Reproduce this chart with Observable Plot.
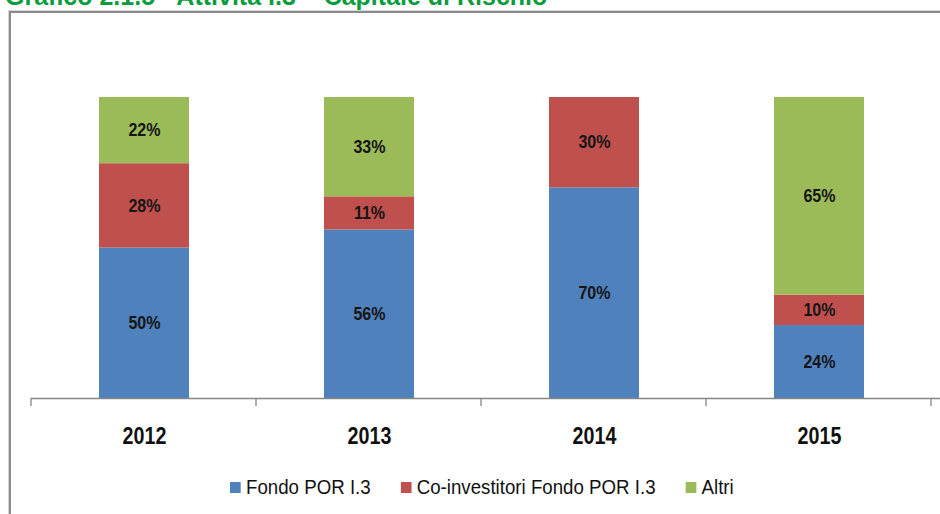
<!DOCTYPE html>
<html>
<head>
<meta charset="utf-8">
<script src="https://cdn.jsdelivr.net/npm/d3@7"></script>
<script src="https://cdn.jsdelivr.net/npm/@observablehq/plot@0.6"></script>
<style>
  html, body { margin: 0; padding: 0; background: #fff; width: 940px; height: 514px; overflow: hidden; }
  #wrap { position: relative; width: 940px; height: 514px; overflow: hidden; }
  #title { position: absolute; left: 5px; top: -16.5px; font-family: "Liberation Sans", Arial, sans-serif; font-weight: bold; font-size: 25px; line-height: 25px; color: #0c9c3e; white-space: nowrap; }
  #frame { position: absolute; left: 9px; top: 11px; width: 1200px; height: 800px; border-left: 2px solid #8a8a8a; border-top: 2px solid #8a8a8a; box-shadow: -1px -1px 0 #d6d6d6; }
  #chart { position: absolute; left: 0; top: 0; }
  #legend { position: absolute; left: 230px; top: 475px; display: flex; align-items: center; gap: 33.7px; font-family: "Liberation Sans", Arial, sans-serif; font-size: 21px; color: #111; white-space: nowrap; transform: scaleX(0.89); transform-origin: 0 50%; }
  #legend .item { display: flex; align-items: center; gap: 5.6px; }
  #legend .sw { width: 12.4px; height: 11px; display: inline-block; }
</style>
</head>
<body>
<div id="wrap">
  <div id="title">Grafico 2.1.5 - Attività I.3 – Capitale di Rischio</div>
  <div id="frame"></div>
  <div id="chart"></div>
  <div id="legend"></div>
</div>
<script>
const years = ["2012", "2013", "2014", "2015"];
const series = ["Fondo POR I.3", "Co-investitori Fondo POR I.3", "Altri"];
const fondo = [50, 56, 70, 24];
const coinvestitori = [28, 11, 30, 10];
const altri = [22, 33, 0, 65];
const colors = ["#4f81bd", "#c0504d", "#9bbb59"];

const valuesBySeries = [fondo, coinvestitori, altri];
const data = [];
series.forEach((s, si) => {
  years.forEach((y, yi) => {
    const v = valuesBySeries[si][yi];
    if (v > 0) data.push({year: y, series: s, value: v});
  });
});

const xOptions = {domain: years, range: [31, 931], paddingInner: 0.6, paddingOuter: 0.3};
const yOptions = {domain: [0, 1], range: [398, 97]};
const xs = Plot.scale({x: {type: "band", ...xOptions}});
const ys = Plot.scale({y: {type: "linear", ...yOptions}});

// boundary ticks between categories (Excel style)
function boundaryTicks() {
  const step = xs.step;
  const pad = (step - xs.bandwidth) / 2;
  const y0 = ys.apply(0);
  const bounds = years.map(d => xs.apply(d) - pad).concat([xs.apply(years[years.length - 1]) + xs.bandwidth + pad]);
  const g = d3.create("svg:g");
  g.selectAll("line").data(bounds).join("line")
    .attr("x1", d => d).attr("x2", d => d)
    .attr("y1", y0).attr("y2", y0 + 8)
    .attr("stroke", "#868686").attr("stroke-width", 1.3);
  return g.node();
}

const chart = Plot.plot({
  width: 940,
  height: 514,
  marginLeft: 31,
  marginRight: 0,
  marginTop: 0,
  marginBottom: 0,
  style: {background: "transparent", overflow: "visible"},
  x: {...xOptions, axis: null},
  y: {...yOptions, axis: null},
  color: {domain: series, range: colors},
  marks: [
    Plot.barY(data, Plot.stackY({x: "year", y: "value", z: "series", fill: "series", offset: "normalize", order: series})),
    Plot.text(data, Plot.stackY({x: "year", y: "value", z: "series", offset: "normalize", order: series,
      text: d => d.value + "%", fill: "#161616", fontSize: 18,
      fontFamily: "'Liberation Sans', Arial, sans-serif", fontWeight: "bold"})),
    Plot.ruleY([0], {stroke: "#868686", strokeWidth: 1.3}),
    boundaryTicks,
    Plot.text(years, {x: d => d, y: () => 0, dy: 38, text: d => d, fill: "#111",
      fontSize: 24, fontWeight: "bold", fontFamily: "'Liberation Sans', Arial, sans-serif"})
  ]
});
document.getElementById("chart").appendChild(chart);

// condense texts to mimic the narrow original typeface
d3.select(chart).selectAll("text").each(function() {
  const t = this.textContent;
  let k = null;
  if (/^\d{4}$/.test(t)) k = 0.82;
  else if (/%$/.test(t)) k = 0.89;
  if (k) {
    const len = this.getComputedTextLength();
    this.setAttribute("textLength", (len * k).toFixed(1));
    this.setAttribute("lengthAdjust", "spacingAndGlyphs");
  }
});

const legend = d3.select("#legend");
series.forEach((s, i) => {
  const item = legend.append("div").attr("class", "item");
  item.append("span").attr("class", "sw").style("background", colors[i]);
  item.append("span").text(s);
});
</script>
</body>
</html>
